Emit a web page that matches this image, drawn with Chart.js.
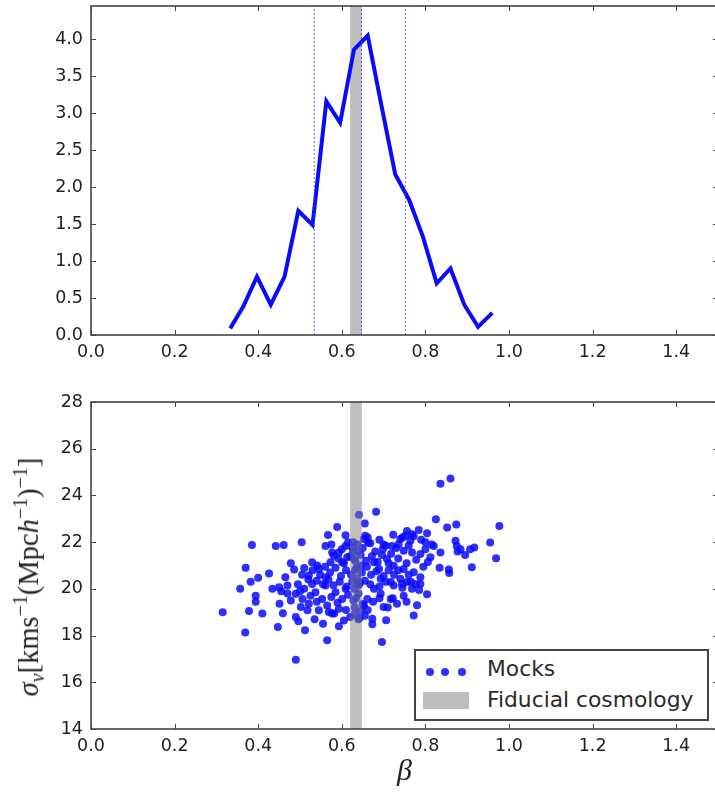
<!DOCTYPE html>
<html>
<head>
<meta charset="utf-8">
<script src="https://cdn.jsdelivr.net/npm/chart.js@4.4.1/dist/chart.umd.min.js"></script>
<style>
  body { margin: 0; background: #fff; overflow: hidden; width: 715px; height: 798px; position: relative; }
  canvas { position: absolute; left: 0; }
  #top { top: -18px; }
  #bot { top: 378px; }
  #ylab {
    position: absolute; left: 29px; top: 577px;
    transform: translate(-50%, -50%) rotate(-90deg);
    font-family: "Liberation Serif", serif; font-size: 28.5px; color: #222; white-space: nowrap;
  }
  #ylab sub, #ylab sup { font-size: 20px; }
  #legend {
    position: absolute; left: 414px; top: 649px; width: 291px; height: 68px;
    border: 2px solid #444; background: #fff;
    font-family: "DejaVu Sans", sans-serif; font-size: 21.8px; color: #2a2a2a;
  }
  #legend .dot { position: absolute; width: 8px; height: 8px; border-radius: 50%; background: rgba(10,10,255,0.85); top: 17px; }
  #legend .swatch { position: absolute; left: 7px; top: 41px; width: 46px; height: 17px; background: #bdbdbd; }
  #legend .txt { position: absolute; left: 71px; line-height: 24px; }
</style>
</head>
<body>
<canvas id="top" width="732" height="383"></canvas>
<canvas id="bot" width="732" height="413"></canvas>
<div id="ylab"><i>σ</i><sub><i>v</i></sub>[kms<sup>−1</sup>(Mpc<i>h</i><sup>−1</sup>)<sup>−1</sup>]</div>
<div id="legend">
  <span class="dot" style="left:10px"></span><span class="dot" style="left:25px"></span><span class="dot" style="left:42px"></span>
  <span class="txt" style="top:6px">Mocks</span>
  <span class="swatch"></span>
  <span class="txt" style="top:37px">Fiducial cosmology</span>
</div>
<script>
// ---- Data ----
const xTicks = [0.0, 0.2, 0.4, 0.6, 0.8, 1.0, 1.2, 1.4];
const topYTicks = [0.0, 0.5, 1.0, 1.5, 2.0, 2.5, 3.0, 3.5, 4.0];
const botYTicks = [14, 16, 18, 20, 22, 24, 26, 28];

// posterior of beta (top panel)
const histBeta = [0.333, 0.364, 0.397, 0.430, 0.463, 0.496, 0.530, 0.563, 0.596, 0.629,
                  0.662, 0.695, 0.728, 0.761, 0.794, 0.827, 0.860, 0.893, 0.926, 0.960];
const histDensity = [0.09, 0.38, 0.79, 0.41, 0.79, 1.68, 1.49, 3.16, 2.87, 3.86,
                     4.05, 3.10, 2.17, 1.83, 1.33, 0.70, 0.90, 0.41, 0.11, 0.30];
const percentileLines = [0.534, 0.647, 0.752];
const fiducialBand = [0.620, 0.648];

// mocks (bottom panel)
const mockBeta = [
  0.315,0.357,0.369,0.370,0.378,0.382,0.385,0.394,0.394,0.400,
  0.410,0.426,0.434,0.442,0.447,0.450,0.451,0.459,0.461,0.470,
  0.478,0.478,0.486,0.490,0.490,0.490,0.496,0.502,0.504,0.506,
  0.510,0.510,0.512,0.518,0.521,0.521,0.529,0.529,0.537,0.541,
  0.545,0.545,0.553,0.555,0.561,0.561,0.561,0.565,0.565,0.567,
  0.569,0.573,0.577,0.577,0.585,0.589,0.593,0.593,0.593,0.601,
  0.605,0.609,0.609,0.609,0.613,0.625,0.641,0.655,0.653,0.656,
  0.662,0.663,0.653,0.661,0.673,0.673,0.677,0.677,0.682,0.689,
  0.693,0.693,0.696,0.698,0.700,0.700,0.706,0.708,0.717,0.717,
  0.720,0.723,0.724,0.724,0.732,0.736,0.740,0.740,0.744,0.748,
  0.748,0.748,0.752,0.756,0.756,0.764,0.768,0.768,0.768,0.772,
  0.772,0.776,0.784,0.788,0.788,0.788,0.800,0.804,0.804,0.812,
  0.820,0.825,0.834,0.836,0.836,0.852,0.856,0.857,0.860,0.872,
  0.874,0.875,0.877,0.884,0.895,0.907,0.911,0.917,0.955,0.969,
  0.977,0.575,0.600,0.615,0.627,0.638,0.650,0.668,0.680,0.690,
  0.705,0.718,0.730,0.745,0.760,0.772,0.790,0.800,0.815,0.592,
  0.605,0.620,0.632,0.645,0.658,0.672,0.686,0.696,0.712,0.735,
  0.755,0.778,0.795,0.806,0.530,0.548,0.560,0.572,0.585,0.598,
  0.610,0.622,0.635,0.648,0.660,0.670,0.683,0.700,0.712,0.725,
  0.735,0.760,0.540,0.555,0.568,0.580,0.595,0.612,0.625,0.640,
  0.655,0.668,0.690,0.705,0.745,0.765,0.785,0.500,0.525,0.540,
  0.575,0.590,0.615,0.628,0.640,0.650,0.662,0.675,0.690,0.710,
  0.722,0.755,0.780,0.610,0.630,0.645,0.620,0.640,0.655,0.582,
  0.535,0.628,0.632,0.636,0.630,0.634,0.631,0.642,0.627,0.640,
  0.645,0.643,0.581,0.601,0.520,0.505,0.495,0.470,0.465,0.455
];
const mockSigma = [
  19.00,20.00,18.13,20.90,19.05,20.30,21.88,19.71,19.45,20.48,
  18.95,20.66,20.00,21.84,18.37,20.07,19.36,18.96,21.88,20.14,
  21.10,19.50,20.83,16.97,18.80,19.79,18.61,19.22,22.00,19.57,
  20.89,20.00,18.23,19.08,20.57,19.36,20.21,21.14,19.86,21.00,
  19.08,20.85,19.57,18.51,21.84,20.14,20.50,17.80,19.29,22.31,
  19.01,21.14,21.56,18.94,19.86,22.65,21.56,19.15,18.40,19.57,
  18.65,22.30,20.00,21.84,21.35,21.77,23.17,22.80,22.13,22.27,
  22.20,21.99,19.29,19.57,18.72,18.48,20.00,21.14,23.30,20.85,
  20.43,19.79,17.72,21.70,19.22,21.90,18.66,21.28,19.57,20.29,
  21.84,22.32,20.99,20.14,19.36,21.91,22.13,20.43,20.21,21.63,
  20.85,19.71,22.27,22.48,20.29,22.06,21.56,20.00,22.34,20.71,
  18.86,20.21,22.52,21.49,20.50,20.21,22.00,22.38,19.77,21.35,
  21.84,22.98,20.90,24.50,21.56,22.63,20.83,20.68,24.72,22.06,
  22.76,21.84,21.60,21.70,21.45,21.70,20.92,21.77,21.99,21.31,
  22.69,21.90,21.70,22.00,21.60,21.90,21.75,21.95,21.60,22.10,
  21.85,21.50,21.75,22.20,21.85,22.25,22.10,21.70,21.90,21.30,
  21.10,21.40,21.20,21.45,21.20,21.40,21.15,21.45,21.10,21.30,
  21.10,21.25,20.95,21.15,20.80,20.60,20.95,20.70,20.90,20.55,
  20.80,20.60,20.90,20.70,20.95,20.60,20.75,20.55,20.80,20.60,
  20.80,20.60,20.35,20.20,20.40,20.15,20.30,20.10,20.30,20.15,
  20.35,20.20,20.10,20.30,20.05,20.30,19.95,19.90,19.70,19.45,
  19.65,19.40,19.75,19.50,19.80,19.35,19.10,19.45,19.60,19.20,
  19.60,19.45,19.30,19.10,18.90,19.05,18.80,18.70,18.85,18.95,
  18.70,21.30,20.80,20.45,20.00,19.60,19.20,18.75,22.00,21.60,
  21.00,20.25,21.42,21.14,20.40,20.60,20.20,19.80,20.50,19.90
];

// ---- Plugins ----
// matplotlib-style box with inward ticks on all four sides
const frame = {
  id: 'frame',
  afterDraw(chart) {
    const { ctx, chartArea: a, scales: { x, y } } = chart;
    ctx.save();
    ctx.strokeStyle = '#444';
    ctx.lineWidth = 1.6;
    ctx.strokeRect(a.left, a.top, a.right - a.left, a.bottom - a.top);
    ctx.lineWidth = 1;
    ctx.beginPath();
    x.ticks.forEach((t) => {
      const p = Math.round(x.getPixelForValue(t.value)) + 0.5;
      ctx.moveTo(p, a.bottom); ctx.lineTo(p, a.bottom - 5);
      ctx.moveTo(p, a.top); ctx.lineTo(p, a.top + 5);
    });
    y.ticks.forEach((t) => {
      const p = Math.round(y.getPixelForValue(t.value)) + 0.5;
      ctx.moveTo(a.left, p); ctx.lineTo(a.left + 5, p);
      ctx.moveTo(a.right, p); ctx.lineTo(a.right - 5, p);
    });
    ctx.stroke();
    ctx.restore();
  }
};

function drawBand(chart, color) {
  const { ctx, chartArea: a, scales: { x } } = chart;
  const l = x.getPixelForValue(fiducialBand[0]);
  const r = x.getPixelForValue(fiducialBand[1]);
  ctx.save();
  ctx.fillStyle = color;
  ctx.fillRect(l, a.top, r - l, a.bottom - a.top);
  ctx.restore();
}
const band = {
  id: 'band',
  beforeDatasetsDraw(chart, args, opts) { if (!opts.over) drawBand(chart, opts.color); },
  afterDatasetsDraw(chart, args, opts) { if (opts.over) drawBand(chart, opts.color); }
};

// ---- Shared axis helpers ----
const tickFont = { family: 'DejaVu Sans', size: 17.5 };
function xAxis(height, extra) {
  return Object.assign({
    type: 'linear', min: 0, max: 1.5,
    grid: { display: false, drawTicks: false },
    border: { display: false },
    afterBuildTicks: (s) => { s.ticks = xTicks.map((v) => ({ value: v })); },
    afterFit: (s) => { s.height = height; },
    ticks: { font: tickFont, color: '#222', padding: 7, maxRotation: 0, callback: (v) => v.toFixed(1) }
  }, extra || {});
}
function yAxis(min, max, list, fmt) {
  return {
    type: 'linear', min, max,
    grid: { display: false, drawTicks: false },
    border: { display: false },
    afterBuildTicks: (s) => { s.ticks = list.map((v) => ({ value: v })); },
    afterFit: (s) => { s.width = 91; },
    ticks: { font: tickFont, color: '#222', padding: 8, callback: fmt }
  };
}
const layout = { padding: { top: 24, right: 14, left: 0, bottom: 0 } };

// ---- Top panel: beta posterior ----
const topDatasets = percentileLines.map((b) => ({
  type: 'line',
  data: [{ x: b, y: 0 }, { x: b, y: 4.45 }],
  borderColor: 'rgba(70,70,255,0.85)', borderWidth: 1, borderDash: [2, 2],
  pointRadius: 0
}));
topDatasets.push({
  type: 'line',
  data: histBeta.map((b, i) => ({ x: b, y: histDensity[i] })),
  borderColor: '#0a0aff', borderWidth: 4, pointRadius: 0, tension: 0,
  borderJoinStyle: 'miter'
});

new Chart(document.getElementById('top'), {
  type: 'line',
  data: { datasets: topDatasets },
  options: {
    responsive: false, animation: false, layout,
    plugins: { legend: { display: false }, tooltip: { enabled: false },
      band: { over: false, color: '#bdbdbd' } },
    scales: {
      x: xAxis(30),
      y: yAxis(0, 4.45, topYTicks, (v) => v.toFixed(1))
    }
  },
  plugins: [band, frame]
});

// ---- Bottom panel: mocks scatter ----
new Chart(document.getElementById('bot'), {
  type: 'scatter',
  data: {
    datasets: [{
      label: 'Mocks',
      data: mockBeta.map((b, i) => ({ x: b, y: mockSigma[i] })),
      backgroundColor: 'rgba(10,10,255,0.85)', borderWidth: 0, pointRadius: 4
    }]
  },
  options: {
    responsive: false, animation: false, layout,
    plugins: { legend: { display: false }, tooltip: { enabled: false },
      band: { over: true, color: 'rgba(128,128,128,0.5)' } },
    scales: {
      x: xAxis(62, { title: { display: true, text: 'β', color: '#222', padding: { top: 0, bottom: 1 },
        font: { family: 'Liberation Serif', style: 'italic', size: 30 } } }),
      y: yAxis(14, 28, botYTicks, (v) => String(v))
    }
  },
  plugins: [band, frame]
});
</script>
</body>
</html>
